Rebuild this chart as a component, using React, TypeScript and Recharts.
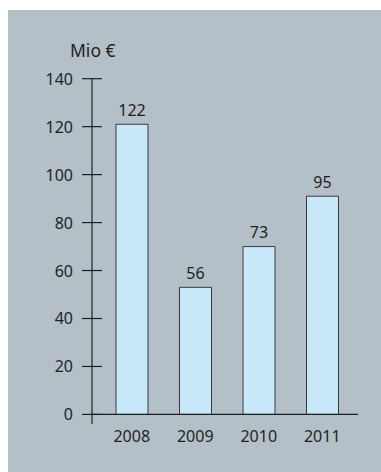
import { BarChart, Bar, XAxis, YAxis, LabelList, ReferenceLine } from 'recharts';

// values as drawn (bar heights) and the printed figures above the bars
const years = ['2008', '2009', '2010', '2011'];
const barValues = [121, 53, 70, 91];
const barLabels = ['122', '56', '73', '95'];
const yTicks = [0, 20, 40, 60, 80, 100, 120, 140];
const unitLabel = 'Mio €';

const data = years.map((year, i) => ({ year, value: barValues[i], label: barLabels[i] }));

const ink = '#231f20';
const font = '"Noto Sans", sans-serif';

function YTick(props: any) {
    const { x, y, payload } = props;
    return (
        <g>
            <line x1={x + 9} x2={x + 29} y1={y} y2={y} stroke={ink} strokeWidth={1.2} />
            <text x={x} y={y} dy={6} textAnchor="end" fill={ink} fontSize={16} fontFamily={font}>
                {payload.value}
            </text>
        </g>
    );
}

export default function App() {
    return (
        <div style={{ position: 'absolute', left: 8, top: 10, width: 373, height: 462, background: '#b3c0c8', fontFamily: font }}>
            <BarChart width={373} height={462} data={data} margin={{ top: 68.7, right: 23, bottom: 18, left: 0 }}>
                <XAxis
                    dataKey="year"
                    axisLine={false}
                    tickLine={false}
                    tickSize={0}
                    tickMargin={7}
                    height={30}
                    padding={{ left: 8, right: 4 }}
                    tick={{ fill: ink, fontSize: 16, fontFamily: font }}
                />
                <YAxis
                    width={84}
                    domain={[-4, 140]}
                    ticks={yTicks}
                    interval={0}
                    tickLine={false}
                    tickSize={10}
                    tickMargin={9}
                    axisLine={{ stroke: ink, strokeWidth: 1.2 }}
                    tick={<YTick />}
                    label={{
                        value: unitLabel,
                        content: ({ viewBox }: any) => (
                            <text x={viewBox.x + 62} y={viewBox.y - 22} fill={ink} fontSize={17.5} fontFamily={font}>
                                {unitLabel}
                            </text>
                        ),
                    }}
                />
                <Bar dataKey="value" barSize={32} fill="#c6e8f8" stroke="#3a3a3a" strokeWidth={1} isAnimationActive={false}>
                    <LabelList dataKey="label" position="top" offset={8.5} fill={ink} fontSize={16} fontFamily={font} />
                </Bar>
                <ReferenceLine y={0} stroke={ink} strokeWidth={1.2} />
            </BarChart>
        </div>
    );
}
